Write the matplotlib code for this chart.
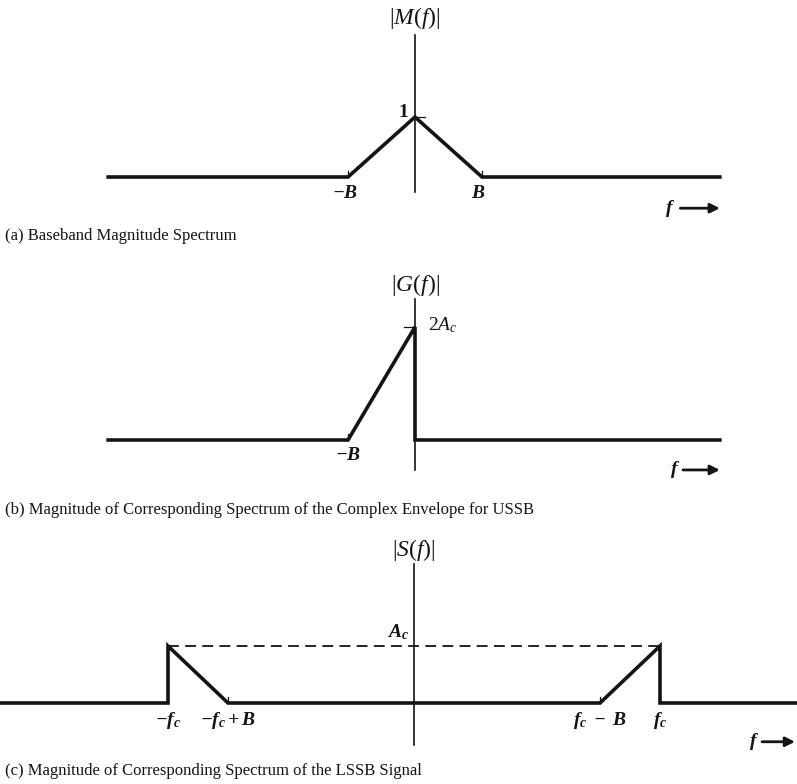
import matplotlib
matplotlib.use("Agg")
import matplotlib.pyplot as plt

plt.rcParams['font.family'] = ['Liberation Serif', 'DejaVu Serif']
plt.rcParams['mathtext.fontset'] = 'custom'
plt.rcParams['mathtext.rm'] = 'Liberation Serif'
plt.rcParams['mathtext.it'] = 'Liberation Serif:italic'
plt.rcParams['mathtext.bf'] = 'Liberation Serif:italic:bold'

INK = '#141414'

# ---- data (f in units of B, amplitude in units of the marked level) ----
# (a) baseband |M(f)|
a_f = [-4.58, -1, 0, 1, 4.55]
a_mag = [0, 0, 1, 0, 0]
a_ticks = [-1, 1]
a_tick_labels = [r'$\mathbf{-B}$', r'$\mathbf{B}$']

# (b) complex envelope |G(f)|, USSB
b_f = [-4.58, -1, 0, 0, 4.55]
b_mag = [0, 0, 2, 0, 0]
b_ticks = [-1]
b_tick_labels = [r'$\mathbf{-B}$']

# (c) LSSB signal |S(f)|, f_c = 4.1 B
fc = 4.1
c_f = [-6.9, -fc, -fc, -fc + 1, fc - 1, fc, fc, 6.4]
c_mag = [0, 0, 1, 0, 0, 1, 0, 0]
c_ticks = [-fc, -fc + 1, fc - 1, fc]
c_tick_labels = [r'$\mathbf{-f_c}$', r'$\mathbf{-f_c + B}$',
                 r'$\mathbf{f_c\ -\ B}$', r'$\mathbf{f_c}$']

captions = ['(a) Baseband Magnitude Spectrum',
            '(b) Magnitude of Corresponding Spectrum of the Complex Envelope for USSB',
            '(c) Magnitude of Corresponding Spectrum of the LSSB Signal']

W, H = 797, 784
fig = plt.figure(figsize=(W / 100, H / 100), dpi=100)


def panel(top, bottom, xlim, ylim):
    ax = fig.add_axes([0, 1 - bottom / H, 1, (bottom - top) / H])
    ax.set_xlim(*xlim)
    ax.set_ylim(*ylim)
    ax.axis('off')
    return ax


def arrow_f(ax, xf, x0, x1, y):
    ax.text(xf, y, r'$\mathbf{f}$', fontsize=14, ha='center', va='center', color=INK)
    ax.annotate('', xy=(x1, y), xytext=(x0, y), annotation_clip=False,
                arrowprops=dict(arrowstyle='-|>', lw=2.0, color=INK,
                                mutation_scale=14, shrinkA=0, shrinkB=0))


# ---------------- (a) ----------------
ax = panel(0, 250, (-415 / 67, 382 / 67), (-73 / 60, 177 / 60))
ax.plot([0, 0], [-0.25, 2.37], color=INK, lw=1.2)
ax.plot(a_f, a_mag, color=INK, lw=2.6, solid_joinstyle='miter')
for t, lab in zip(a_ticks, a_tick_labels):
    ax.plot([t, t], [0, 0.1], color=INK, lw=0.9)
    ax.text(t - 0.05, -0.28, lab, fontsize=14, ha='center', va='center', color=INK)
ax.plot([0, 0.15], [1, 1], color=INK, lw=0.9)
ax.text(-0.1, 1.08, '1', fontsize=14, fontweight='bold', ha='right', va='center', color=INK)
ax.text(0, 2.65, r'$|M(f)|$', fontsize=17, ha='center', va='center', color=INK)
arrow_f(ax, 3.8, 3.96, 4.55, -0.52)

# ---------------- (b) ----------------
ax = panel(250, 520, (-415 / 67, 382 / 67), (-80 / 56.5, 190 / 56.5))
ax.plot([0, 0], [-0.53, 2.49], color=INK, lw=1.2)
ax.plot(b_f, b_mag, color=INK, lw=2.6, solid_joinstyle='miter')
for t, lab in zip(b_ticks, b_tick_labels):
    ax.plot([t, t], [0, 0.1], color=INK, lw=0.9)
    ax.text(t, -0.28, lab, fontsize=14, ha='center', va='center', color=INK)
ax.plot([-0.17, 0], [2, 2], color=INK, lw=0.9)
ax.text(0.2, 2.04, r'$2A_c$', fontsize=14, ha='left', va='center', color=INK)
ax.text(0, 2.74, r'$|G(f)|$', fontsize=17, ha='center', va='center', color=INK)
arrow_f(ax, 3.88, 4.0, 4.55, -0.53)

# ---------------- (c) ----------------
ax = panel(520, 784, (-414 / 60, 383 / 60), (-81 / 57, 183 / 57))
ax.plot([0, 0], [-0.74, 2.44], color=INK, lw=1.2)
ax.plot([-fc, fc], [1, 1], color=INK, lw=1.3, dashes=(6, 3.5))
ax.plot(c_f, c_mag, color=INK, lw=2.6, solid_joinstyle='miter')
for t in [-fc + 1, fc - 1]:
    ax.plot([t, t], [0, 0.1], color=INK, lw=0.9)
for t, lab in zip(c_ticks, c_tick_labels):
    ax.text(t, -0.3, lab, fontsize=14, ha='center', va='center', color=INK)
ax.text(-0.08, 1.25, r'$\mathbf{A_c}$', fontsize=14, ha='right', va='center', color=INK)
ax.text(0, 2.68, r'$|S(f)|$', fontsize=17, ha='center', va='center', color=INK)
arrow_f(ax, 5.67, 5.8, 6.35, -0.68)

# ---------------- captions ----------------
for y, txt in zip([236, 510, 771], captions):
    fig.text(5 / W, 1 - y / H, txt, fontsize=12, ha='left', va='center', color=INK)

fig.savefig('out.png', dpi=100, facecolor='white')
